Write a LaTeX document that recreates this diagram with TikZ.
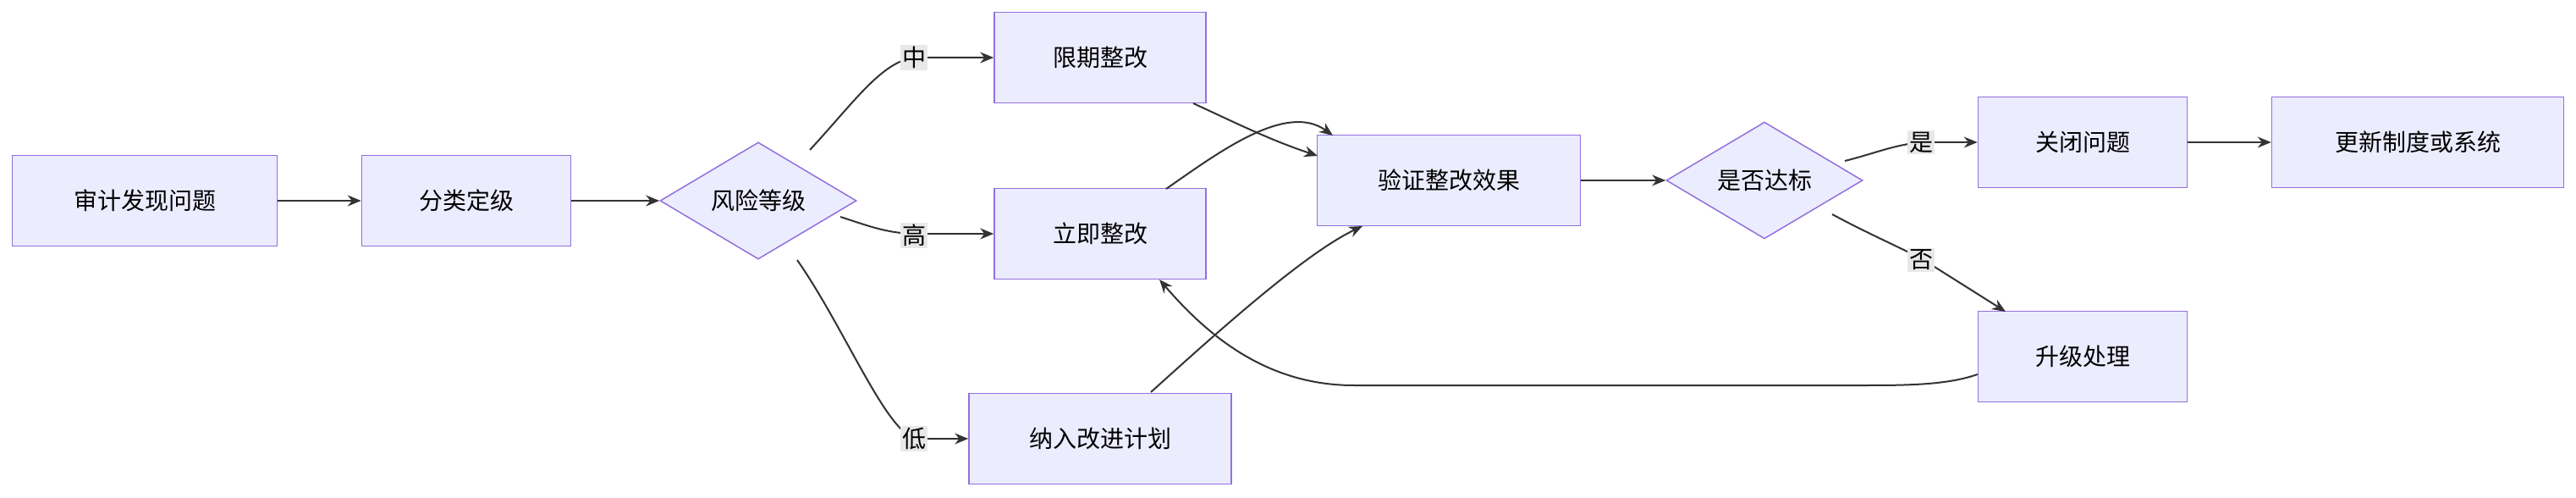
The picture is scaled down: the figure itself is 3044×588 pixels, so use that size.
\documentclass[tikz,border=0pt]{standalone}
\usepackage{fontspec}
\setmainfont{Noto Sans CJK SC}
\usetikzlibrary{shapes.geometric,arrows.meta}
\definecolor{nfill}{HTML}{ECECFF}
\definecolor{nline}{HTML}{9370DB}
\definecolor{eline}{HTML}{333333}
\definecolor{lbg}{HTML}{E8E8E8}
\begin{document}
\begin{tikzpicture}[x=1pt,y=-1pt,
  box/.style={draw=nline,fill=nfill,line width=1.5pt,minimum height=107pt,inner sep=0pt,font=\fontsize{28}{32}\selectfont},
  dia/.style={draw=nline,fill=nfill,line width=1.5pt,diamond,aspect=1,minimum width=232pt,inner sep=0pt,font=\fontsize{28}{32}\selectfont},
  e/.style={draw=eline,line width=2pt,-{Stealth[length=16pt,width=13pt]}},
  lab/.style={fill=lbg,inner sep=2pt,font=\fontsize{28}{32}\selectfont}]
\useasboundingbox (0,0) rectangle (3044,588);
\node[box,minimum width=313pt] (a) at (171,237) {审计发现问题};
\node[box,minimum width=247pt] (b) at (551,237) {分类定级};
\node[dia] (c) at (896,237) {风险等级};
\node[box,minimum width=250pt] (d) at (1300,68) {限期整改};
\node[box,minimum width=250pt] (f) at (1300,276) {立即整改};
\node[box,minimum width=310pt] (g) at (1300,518) {纳入改进计划};
\node[box,minimum width=311pt] (h) at (1712,213) {验证整改效果};
\node[dia] (i) at (2085,213) {是否达标};
\node[box,minimum width=247pt] (j) at (2461,168) {关闭问题};
\node[box,minimum width=345pt] (k) at (2857,168) {更新制度或系统};
\node[box,minimum width=247pt] (l) at (2461,421) {升级处理};
\draw[e] (a) -- (b);
\draw[e] (b) -- (c);
\draw[e] (957,177) .. controls (1010,120) and (1045,68) .. (1085,68) -- (d.west);
\node[lab] at (1080,68) {中};
\draw[e] (993,256) .. controls (1030,268) and (1050,276) .. (1085,276) -- (f.west);
\node[lab] at (1080,278) {高};
\draw[e] (942,307) .. controls (1000,390) and (1050,518) .. (1085,518) -- (g.west);
\node[lab] at (1080,518) {低};
\draw[e] (1410,122) .. controls (1460,145) and (1500,165) .. (1557,184);
\draw[e] (1378,223) .. controls (1440,180) and (1520,120) .. (1575,160);
\draw[e] (1360,463) .. controls (1430,400) and (1540,300) .. (1610,267);
\draw[e] (h) -- (i);
\draw[e] (2180,190) .. controls (2220,180) and (2245,168) .. (2280,168) -- (j.west);
\node[lab] at (2270,168) {是};
\draw[e] (2165,253) .. controls (2200,272) and (2240,290) .. (2270,305) -- (2370,368);
\node[lab] at (2270,307) {否};
\draw[e] (j) -- (k);
\draw[e] (l.west|-0,442) .. controls (2300,455) and (2250,455) .. (2200,455) -- (1600,455) .. controls (1500,455) and (1430,400) .. (1370,330);
\end{tikzpicture}
\end{document}
